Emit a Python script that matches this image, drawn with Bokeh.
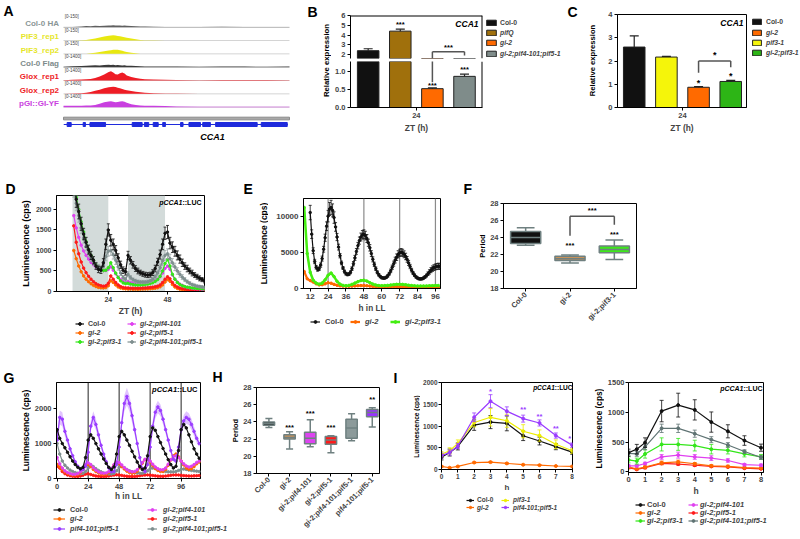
import math
from bokeh.plotting import figure
from bokeh.layouts import row, column
from bokeh.models import (ColumnDataSource, Label, Legend, LegendItem, Range1d,
                          FixedTicker, BoxAnnotation, Span)
from bokeh.core.properties import value
from bokeh.embed import file_html
from bokeh.resources import INLINE

FONT = "Liberation Sans"
NAN = float("nan")

# ============================ DATA ============================
# --- A: ChIP-seq browser tracks over the CCA1 locus (x in % of locus) ---
a_tracks = ["Col-0 HA", "PIF3_rep1", "PIF3_rep2", "Col-0 Flag", "Glox_rep1", "Glox_rep2", "pGI::GI-YF"]
a_ranges = ["[0-150]", "[0-150]", "[0-150]", "[0-1400]", "[0-1400]", "[0-1400]", "[0-1400]"]
a_label_colors = ["#8a9696", "#e6e62a", "#e6e62a", "#7d8a8a", "#ee1c25", "#ee1c25", "#c93fe0"]
a_fill_colors = ["#606060", "#e8e810", "#e8e810", "#3a3a3a", "#ee1c25", "#ee1c25", "#c93fe0"]
a_pos = [0, 4, 8, 10, 12, 14, 16, 18, 20, 21, 22, 23, 24, 25, 26, 27, 28, 30, 32, 34, 36, 40, 45, 50, 60, 70, 80, 90, 100]
a_col0_ha = [0.02, 0.03, 0.08, 0.12, 0.1, 0.14, 0.12, 0.15, 0.18, 0.16, 0.2, 0.18, 0.16, 0.18, 0.15, 0.17, 0.14, 0.12, 0.1, 0.08, 0.06, 0.05, 0.03, 0.03, 0.02, 0.04, 0.02, 0.02, 0.02]
a_pif3_rep1 = [0, 0, 0.02, 0.06, 0.12, 0.2, 0.3, 0.4, 0.48, 0.5, 0.52, 0.5, 0.45, 0.42, 0.38, 0.33, 0.28, 0.2, 0.12, 0.06, 0.03, 0.02, 0.01, 0.01, 0.01, 0.01, 0.01, 0.01, 0.01]
a_pif3_rep2 = [0, 0, 0, 0.02, 0.05, 0.1, 0.18, 0.26, 0.33, 0.36, 0.4, 0.42, 0.4, 0.36, 0.3, 0.24, 0.18, 0.1, 0.05, 0.02, 0.01, 0.01, 0, 0, 0, 0, 0, 0, 0]
a_col0_flag = [0.05, 0.1, 0.12, 0.15, 0.18, 0.2, 0.18, 0.22, 0.25, 0.22, 0.25, 0.2, 0.22, 0.2, 0.18, 0.2, 0.15, 0.15, 0.12, 0.1, 0.08, 0.08, 0.06, 0.06, 0.05, 0.08, 0.06, 0.05, 0.06]
a_glox_rep1 = [0.03, 0.08, 0.1, 0.12, 0.15, 0.25, 0.4, 0.6, 0.85, 0.92, 0.8, 0.62, 0.6, 0.72, 0.8, 0.7, 0.5, 0.35, 0.25, 0.18, 0.12, 0.1, 0.08, 0.05, 0.03, 0.05, 0.04, 0.05, 0.03]
a_glox_rep2 = [0.02, 0.04, 0.06, 0.1, 0.18, 0.3, 0.42, 0.55, 0.65, 0.68, 0.7, 0.68, 0.62, 0.55, 0.48, 0.42, 0.36, 0.28, 0.22, 0.16, 0.12, 0.06, 0.04, 0.03, 0.02, 0.02, 0.02, 0.02, 0.02]
a_pgi_gi = [0.15, 0.14, 0.15, 0.16, 0.18, 0.22, 0.35, 0.5, 0.58, 0.6, 0.55, 0.5, 0.52, 0.58, 0.6, 0.55, 0.45, 0.3, 0.22, 0.18, 0.15, 0.14, 0.12, 0.06, 0.05, 0.05, 0.05, 0.05, 0.05]
a_signal = [a_col0_ha, a_pif3_rep1, a_pif3_rep2, a_col0_flag, a_glox_rep1, a_glox_rep2, a_pgi_gi]
a_exon_start = [1.6, 8.7, 11.7, 30.4, 35.8, 39.7, 43.9, 51.8, 55.5, 61.6, 67.3, 87.5]
a_exon_end = [3.4, 9.7, 18.6, 34.8, 37.7, 41.9, 45.1, 52.9, 60.6, 65.0, 85.7, 99.0]
a_gene_start = 0.1
a_gene_end = 99.3

# --- B: qPCR CCA1 at ZT24 ---
b_genotypes = ["Col-0", "pifQ", "gi-2", "gi-2;pif4-101;pif5-1"]
b_pos = [1, 2, 3, 4]
b_values = [2.4, 4.4, 0.52, 0.86]
b_err = [0.2, 0.2, 0.02, 0.06]
b_colors = ["#111111", "#a0700c", "#ff6a00", "#7f8c8a"]

# --- C ---
c_genotypes = ["Col-0", "pif3-1", "gi-2", "gi-2;pif3-1"]
c_pos = [1, 2, 3, 4]
c_values = [2.6, 2.17, 0.87, 1.12]
c_err = [0.48, 0.03, 0.03, 0.05]
c_colors = ["#111111", "#f5f50a", "#ff6a00", "#2db516"]
c_legend_order = ["Col-0", "gi-2", "pif3-1", "gi-2;pif3-1"]

# --- D: luminescence, ZT hours 10..63 ---
d_hours = list(range(10, 64))
d_col0 = [2700, 2250, 1950, 1650, 1400, 1200, 1020, 880, 760, 620, 540, 520,
          700, 1150, 1500, 1250, 1150, 1000, 820, 650, 520, 480, 880, 760,
          650, 560, 500, 460, 430, 410, 400, 410, 460, 560, 720, 900,
          1150, 1420, 1450, 1180, 1080, 980, 880, 790, 700, 620, 560, 500,
          450, 400, 360, 320, 290, 260]
d_col0_err = [250, 200, 180, 160, 140, 120, 110, 100, 90, 80, 80, 80,
              100, 130, 150, 140, 130, 120, 100, 90, 80, 80, 100, 90,
              80, 70, 70, 60, 60, 60, 60, 60, 70, 80, 90, 110,
              130, 150, 160, 140, 130, 120, 110, 100, 90, 80, 80, 70,
              70, 60, 60, 60, 50, 50]
d_gray = [2500, 2150, 1850, 1550, 1300, 1100, 950, 820, 720, 640, 590, 570,
          640, 850, 980, 1000, 900, 760, 600, 450, 340, 300, 420, 340,
          290, 260, 240, 230, 230, 230, 240, 260, 300, 360, 450, 580,
          750, 880, 920, 800, 700, 600, 500, 420, 350, 290, 240, 200,
          170, 150, 130, 120, 110, 100]
d_gray_err = [200, 180, 160, 140, 120, 110, 100, 90, 80, 70, 70, 70,
              80, 100, 120, 120, 110, 100, 80, 60, 50, 50, 60, 50,
              40, 40, 40, 40, 40, 40, 40, 40, 50, 60, 70, 90,
              110, 120, 120, 110, 100, 90, 80, 70, 60, 50, 40, 40,
              30, 30, 30, 30, 30, 30]
d_green = [2600, 2300, 2000, 1700, 1450, 1220, 1030, 880, 760, 660, 590, 540,
           510, 520, 580, 700, 580, 450, 340, 260, 210, 190, 200, 180,
           170, 160, 160, 160, 165, 170, 180, 195, 215, 245, 290, 370,
           500, 680, 780, 620, 420, 300, 220, 170, 140, 120, 105, 95,
           85, 80, 75, 70, 65, 60]
d_magenta = [1850, 1550, 1320, 1130, 990, 880, 790, 710, 650, 600, 560, 530,
             510, 510, 540, 600, 520, 430, 350, 290, 250, 230, 240, 220,
             210, 200, 200, 200, 205, 210, 215, 225, 240, 260, 300, 360,
             450, 560, 620, 540, 400, 300, 230, 180, 150, 120, 100, 90,
             80, 70, 65, 60, 55, 50]
d_red = [1600, 1200, 920, 720, 570, 460, 370, 300, 240, 190, 160, 140,
         130, 140, 200, 380, 300, 220, 160, 120, 100, 90, 85, 80,
         80, 80, 80, 82, 85, 88, 92, 98, 105, 115, 130, 160,
         220, 300, 360, 310, 220, 150, 110, 85, 70, 60, 50, 45,
         40, 38, 35, 33, 30, 28]
d_orange = [1000, 800, 620, 480, 380, 300, 240, 190, 150, 120, 100, 90,
            85, 95, 140, 260, 220, 160, 110, 85, 70, 62, 60, 58,
            56, 55, 55, 56, 58, 60, 63, 67, 72, 80, 92, 115,
            160, 230, 290, 250, 170, 110, 75, 55, 45, 38, 33, 30,
            27, 25, 23, 22, 21, 20]
d_dark_start = [9.5, 32]
d_dark_end = [24, 47]

# --- E: free run, h in LL ---
e_hours_col0 = list(range(12, 100))
e_col0 = [10500, 7500, 5200, 3700, 2900, 2600, 2700, 3200, 4100, 5400, 7000, 8600,
          10000, 11000, 11200, 10800, 9800, 8500, 7100, 5700, 4500, 3500, 2800, 2300,
          2000, 1900, 1950, 2200, 2700, 3400, 4200, 5100, 5900, 6600, 7100, 7400,
          7500, 7300, 6900, 6300, 5600, 4800, 4000, 3300, 2700, 2200, 1850, 1600,
          1450, 1400, 1400, 1500, 1700, 2000, 2400, 2900, 3400, 3900, 4300, 4700,
          4900, 5000, 4900, 4700, 4400, 4000, 3500, 3000, 2500, 2100, 1800, 1550,
          1400, 1300, 1280, 1300, 1400, 1550, 1750, 2000, 2250, 2500, 2700, 2850,
          2950, 3000, 3050, 3000]
e_col0_err = [1000, 600, 400, 300, 250, 250, 250, 300, 350, 400, 500, 600,
              800, 900, 1000, 900, 800, 600, 500, 400, 300, 250, 200, 200,
              180, 180, 180, 200, 250, 300, 350, 400, 450, 500, 550, 600,
              600, 600, 550, 500, 450, 400, 350, 300, 250, 200, 180, 160,
              150, 150, 150, 160, 180, 200, 250, 300, 350, 400, 450, 500,
              500, 500, 500, 480, 450, 400, 350, 300, 250, 200, 180, 160,
              150, 150, 150, 150, 160, 180, 200, 250, 300, 350, 380, 400,
              400, 420, 420, 400]
e_hours = list(range(8, 100, 2))
e_green = [11200, 4800, 2200, 1100, 700, 550, 700, 1150, 1800, 2100, 1600, 950,
           550, 380, 330, 380, 520, 700, 900, 1050, 1100, 980, 760, 560,
           430, 360, 340, 350, 380, 430, 480, 530, 540, 520, 470, 410,
           360, 320, 300, 290, 290, 300, 320, 340, 350, 350]
e_orange = [2300, 1300, 1050, 850, 600, 450, 480, 600, 750, 680, 520, 400,
            320, 280, 260, 260, 280, 310, 340, 360, 360, 330, 290, 250,
            220, 200, 190, 190, 200, 210, 220, 220, 210, 200, 190, 180,
            170, 165, 160, 160, 160, 160, 165, 170, 170, 170]
ll_marks = [24, 48, 72, 96]

# --- F: period ---
f_genotypes = ["Col-0", "gi-2", "gi-2;pif3-1"]
f_pos = [1, 2, 3]
f_low = [23.1, 21.0, 21.4]
f_q1 = [23.3, 21.3, 22.2]
f_med = [24.0, 21.5, 22.6]
f_q3 = [24.7, 21.8, 23.0]
f_high = [25.15, 21.95, 23.7]
f_colors = ["#111111", "#c8925a", "#3de81a"]

# --- G: free run ---
g_hours = list(range(0, 112, 2))
g_col0 = [1400, 1150, 1000, 880, 750, 620, 500, 400, 320, 280, 320, 600,
          1100, 1250, 1150, 1000, 850, 700, 560, 430, 320, 260, 330, 700,
          1200, 1350, 1250, 1100, 950, 780, 620, 470, 340, 260, 300, 650,
          1200, 1450, 1380, 1200, 1030, 860, 700, 540, 400, 300, 350, 800,
          1400, 1550, 1450, 1250, 1050, 850, 700, 580]
g_purple = [1100, 1750, 1700, 1350, 1100, 850, 650, 480, 350, 260, 250, 350,
            750, 1500, 1750, 1550, 1250, 950, 700, 480, 300, 190, 200, 400,
            900, 1600, 2150, 2350, 2150, 1800, 1400, 1000, 600, 280, 200, 400,
            900, 1500, 1900, 2050, 1950, 1700, 1400, 1100, 800, 550, 500, 900,
            1400, 1650, 1750, 1700, 1550, 1350, 1150, 1000]
g_purple_err = [150, 200, 200, 150, 120, 100, 80, 60, 50, 40, 40, 60,
                100, 150, 180, 160, 130, 100, 80, 60, 40, 30, 30, 60,
                120, 180, 230, 250, 230, 200, 150, 100, 70, 40, 30, 60,
                120, 160, 180, 180, 170, 150, 120, 100, 80, 60, 60, 100,
                150, 170, 180, 170, 160, 140, 120, 100]
g_gray = [1000, 700, 500, 380, 300, 240, 200, 170, 150, 140, 150, 200,
          300, 380, 340, 280, 230, 190, 160, 140, 130, 130, 150, 220,
          320, 350, 310, 260, 220, 190, 170, 160, 150, 150, 170, 220,
          280, 300, 280, 250, 230, 210, 200, 190, 190, 190, 200, 230,
          260, 270, 260, 240, 230, 220, 210, 200]
g_orange = [400, 330, 250, 190, 150, 120, 100, 100, 120, 170, 260, 370,
            400, 340, 260, 200, 160, 130, 120, 130, 170, 260, 380, 450,
            420, 340, 270, 210, 170, 150, 160, 210, 310, 440, 540, 550,
            470, 370, 290, 230, 200, 200, 260, 380, 530, 650, 700, 620,
            500, 390, 300, 260, 280, 340, 420, 470]
g_magenta = [600, 420, 300, 220, 170, 140, 120, 120, 140, 190, 280, 400,
             450, 400, 310, 240, 190, 160, 150, 160, 200, 290, 400, 470,
             460, 390, 310, 250, 210, 190, 200, 250, 350, 460, 550, 560,
             500, 410, 330, 280, 250, 250, 300, 410, 540, 630, 650, 600,
             500, 420, 360, 330, 350, 400, 460, 500]
g_red = [350, 300, 200, 140, 100, 80, 65, 60, 60, 70, 95, 125,
         135, 115, 90, 72, 62, 58, 58, 62, 72, 88, 100, 105,
         100, 88, 75, 65, 60, 58, 60, 68, 80, 92, 100, 102,
         96, 86, 76, 68, 64, 64, 70, 80, 92, 100, 102, 98,
         90, 82, 76, 72, 72, 76, 80, 84]

# --- H: period ---
h_genotypes = ["Col-0", "gi-2", "gi-2;pif4-101", "gi-2;pif5-1", "gi-2;pif4-101;pif5-1", "pif4-101;pif5-1"]
h_pos = [1, 2, 3, 4, 5, 6]
h_low = [23.35, 20.85, 21.1, 20.4, 21.8, 23.4]
h_q1 = [23.6, 22.0, 21.45, 21.4, 22.1, 24.6]
h_med = [23.8, 22.2, 22.1, 21.9, 23.3, 25.1]
h_q3 = [24.0, 22.5, 22.8, 22.3, 24.3, 25.45]
h_high = [24.4, 22.85, 24.25, 22.4, 24.95, 25.65]
h_colors = ["#111111", "#c8925a", "#dd44f0", "#ff1a1a", "#8c9a9a", "#9933ff"]

# --- I: 0-8 h ---
i_hours = [0, 0.5, 1, 2, 3, 4, 5, 6, 7, 8]
il_col0 = [280, 390, 530, 1020, 1090, 1060, 775, 655, 525, 400]
il_col0_err = [60, 80, 80, 120, 150, 170, 110, 90, 70, 50]
il_gi2 = [70, 40, 70, 160, 170, 140, 110, 100, 80, 70]
il_gi2_err = [20, 10, 10, 15, 15, 15, 10, 10, 10, 10]
il_pif3 = [350, 430, 600, 1080, 1200, 1120, 880, 780, 580, 430]
il_pif3_err = [60, 70, 80, 100, 200, 150, 150, 130, 100, 60]
il_pif45 = [320, 390, 540, 1200, 1570, 1340, 1170, 1070, 780, 560]
il_pif45_err = [60, 60, 60, 100, 150, 100, 80, 70, 60, 50]
ir_col0 = [320, 380, 490, 1020, 1120, 1040, 835, 680, 525, 405]
ir_col0_err = [60, 80, 80, 180, 200, 170, 170, 110, 80, 60]
ir_gray = [310, 300, 420, 730, 730, 640, 540, 450, 340, 240]
ir_gray_err = [40, 40, 50, 70, 70, 60, 50, 40, 30, 30]
ir_green = [200, 180, 300, 460, 460, 440, 380, 360, 300, 250]
ir_green_err = [50, 50, 70, 110, 100, 90, 80, 60, 50, 40]
ir_magenta = [100, 100, 140, 250, 280, 250, 230, 190, 120, 110]
ir_magenta_err = [20, 20, 20, 40, 50, 40, 40, 30, 20, 20]
ir_orange = [80, 50, 80, 150, 165, 135, 100, 90, 70, 60]
ir_orange_err = [20, 10, 20, 30, 30, 20, 20, 20, 10, 10]
ir_red = [70, 40, 70, 140, 130, 110, 90, 80, 60, 50]
ir_red_err = [20, 10, 20, 20, 20, 20, 10, 10, 10, 10]

# colours
BLACK = "#111111"
ORANGE = "#ff6a00"
GREEN = "#33e619"
EGREEN = "#44ee11"
MAGENTA = "#e040f0"
RED = "#ff1a1a"
GRAY = "#7f8f8f"
DGRAY = "#5f7373"
PURPLE = "#9a3cff"
YELLOW = "#eded00"

LETTER = 14


# ============================ HELPERS ============================
def style_axis(ax, fs="7.5px", standoff=2):
    ax.axis_line_color = "black"
    ax.axis_line_width = 1
    ax.major_tick_in = 0
    ax.major_tick_out = 3
    ax.major_tick_line_width = 1
    ax.minor_tick_line_color = None
    ax.major_label_text_font = FONT
    ax.major_label_text_font_style = "bold"
    ax.major_label_text_font_size = fs
    ax.major_label_standoff = standoff


def axis_title(ax, text, size=8.5, standoff=3):
    ax.axis_label = text
    ax.axis_label_text_font = FONT
    ax.axis_label_text_font_style = "bold"
    ax.axis_label_text_font_size = f"{size}px"
    ax.axis_label_standoff = standoff


def make_label(x, y, units, text, size, style, align, baseline, angle, color):
    return Label(x=x, y=y, x_units=units, y_units=units, text=text, text_font=FONT,
                 text_font_size=f"{size}px", text_font_style=style, text_align=align,
                 text_baseline=baseline, angle=angle, text_color=color)


class Panel:
    """A figure whose frame sits at page pixels frame=(L, T, R, B)."""
    def __init__(self, origin, size, frame, xr, yr, xaxis=True, yaxis=True, fs="7.5px", standoff=2):
        ox, oy = origin
        W, H = size
        L, T, R, B = frame
        self.frame = frame
        kw = {}
        if not xaxis:
            kw["x_axis_type"] = None
        if not yaxis:
            kw["y_axis_type"] = None
        self.p = figure(width=W, height=H, x_range=xr, y_range=yr, title=None,
                        output_backend="svg", toolbar_location=None, frame_align=False,
                        min_border_left=L - ox, min_border_right=ox + W - R,
                        min_border_top=T - oy, min_border_bottom=oy + H - B, **kw)
        p = self.p
        p.grid.visible = False
        p.outline_line_color = "black"
        p.outline_line_width = 1
        p.border_fill_color = "white"
        p.background_fill_color = "white"
        for ax in p.axis:
            style_axis(ax, fs, standoff)

    def label(self, x, y, text, size=8.0, style="bold", align="center", baseline="middle",
              angle=0.0, color="black", data=True):
        if data:
            lab = make_label(x, y, "data", text, size, style, align, baseline, angle, color)
        else:
            L, T, R, B = self.frame
            lab = make_label(x - L, B - y, "screen", text, size, style, align, baseline, angle, color)
        self.p.add_layout(lab)

    def luc(self, xr, y, size):
        # "pCCA1" italic followed by upright "::LUC", right-aligned at xr
        self.label(xr, y, "::LUC", size=size, style="bold", align="right", data=False)
        self.label(xr - 2.72 * size, y, "pCCA1", size=size, style="bold italic", align="right", data=False)


class Canvas:
    """A text/legend strip whose frame is the whole figure; data units = page pixels."""
    def __init__(self, origin, size):
        ox, oy = origin
        W, H = size
        self.ox, self.oy, self.W, self.H = ox, oy, W, H
        self.p = figure(width=W, height=H, x_range=Range1d(ox, ox + W), y_range=Range1d(oy + H, oy),
                        x_axis_type=None, y_axis_type=None, output_backend="svg", title=None,
                        toolbar_location=None, frame_align=False, min_border=0,
                        min_border_left=0, min_border_right=0, min_border_top=0, min_border_bottom=0)
        self.p.outline_line_color = None
        self.p.grid.visible = False
        self.p.border_fill_color = "white"
        self.p.background_fill_color = "white"

    def text(self, x, y, text, size=8.0, style="bold", align="left", baseline="middle",
             angle=0.0, color="black"):
        self.p.add_layout(make_label(x, y, "data", text, size, style, align, baseline, angle, color))

    def key_line(self, color, lw=1.2, ms=2.5):
        rl = self.p.line(x=[NAN], y=[NAN], line_color=color, line_width=lw)
        rm = self.p.scatter(x=[NAN], y=[NAN], marker="circle", size=ms, fill_color=color, line_color=color)
        return [rl, rm]

    def key_box(self, color):
        return [self.p.vbar(x=[NAN], top=[NAN], width=1, fill_color=color, line_color="#222222", line_width=1)]

    def legend(self, renderers, text, gx, gy, gw=10, gh=7, standoff=3, size=7.5, italic=True):
        item_h = max(gh, round(size * 1.2))
        item = LegendItem(label=value(text), renderers=renderers)
        lg = Legend(items=[item], location=(gx - self.ox, self.oy + self.H - (gy + item_h / 2.0)),
                    glyph_width=gw, glyph_height=gh, label_height=gh, label_width=10,
                    padding=0, margin=0, spacing=0, label_standoff=standoff,
                    border_line_color=None, background_fill_alpha=0,
                    label_text_font=FONT, label_text_font_size=f"{size}px",
                    label_text_font_style="bold italic" if italic else "bold")
        self.p.add_layout(lg)


def series(pan, x, y, color, lw=1.2, ms=2.5, marker="circle", err=None, ecolor=None, cap=3):
    p = pan.p
    if err is not None:
        lo = [a - b for a, b in zip(y, err)]
        hi = [a + b for a, b in zip(y, err)]
        ec = ecolor or color
        p.segment(x0=x, y0=lo, x1=x, y1=hi, line_color=ec, line_width=0.8)
        p.scatter(x=list(x) + list(x), y=lo + hi, marker="dash", size=cap, line_color=ec, line_width=0.8)
    p.line(x=x, y=y, line_color=color, line_width=lw)
    p.scatter(x=x, y=y, marker=marker, size=ms, fill_color=color, line_color=color)


def boxes(pan, pos, low, q1, med, q3, high, colors, width, capw, edge="#6f8080"):
    p = pan.p
    p.segment(x0=pos, y0=q3, x1=pos, y1=high, line_color=edge, line_width=1.5)
    p.segment(x0=pos, y0=q1, x1=pos, y1=low, line_color=edge, line_width=1.5)
    p.segment(x0=[x - capw for x in pos], y0=high, x1=[x + capw for x in pos], y1=high, line_color=edge, line_width=1.5)
    p.segment(x0=[x - capw for x in pos], y0=low, x1=[x + capw for x in pos], y1=low, line_color=edge, line_width=1.5)
    p.vbar(x=pos, bottom=q1, top=q3, width=width, fill_color=colors, line_color=edge, line_width=1.5)
    p.segment(x0=[x - width / 2 for x in pos], y0=med, x1=[x + width / 2 for x in pos], y1=med, line_color=edge, line_width=1.5)


def bar_err(p, pos, vals, err, color="#222222", cap=9):
    hi = [v + e for v, e in zip(vals, err)]
    p.segment(x0=pos, y0=vals, x1=pos, y1=hi, line_color=color, line_width=1.2)
    p.scatter(x=pos, y=hi, marker="dash", size=cap, line_color=color, line_width=1.2)


# ============================ ROW 1 ============================
# ---- A ----
pa = Panel((0, 0), (300, 180), (0, 0, 300, 180), Range1d(-27.88, 104.87), Range1d(12.5, -1.003),
           xaxis=False, yaxis=False)
pa.p.outline_line_color = None
for i, name in enumerate(a_tracks):
    base = i + 1
    vals = a_signal[i]
    pa.p.line(x=[0, 100], y=[base, base], line_color="#d4d4d4", line_width=1)
    pa.p.varea(x=a_pos, y1=[base] * len(a_pos), y2=[base - 0.75 * v for v in vals],
               fill_color=a_fill_colors[i])
    pa.label(-2, base - 0.28, name, size=8, align="right", color=a_label_colors[i])
    pa.label(0.5, i + 0.22, a_ranges[i], size=4.5, style="normal", align="left", color="#444444")
pa.p.quad(left=[0], right=[100], top=[7.75], bottom=[7.95], fill_color="#a8a8a8", line_color="#8a8a8a")
pa.p.segment(x0=[a_gene_start], y0=[8.3], x1=[a_gene_end], y1=[8.3], line_color="#1f2bdc", line_width=1)
pa.p.quad(left=a_exon_start, right=a_exon_end, top=[8.15] * len(a_exon_start),
          bottom=[8.45] * len(a_exon_start), fill_color="#1f2bdc", line_color="#1f2bdc")
pa.label(65.9, 9.27, "CCA1", size=9, style="bold italic")
pa.label(3, 10.5, "A", size=LETTER, align="left", data=False)

# ---- B ----
cb = Canvas((300, 0), (31, 180))
cb.text(307, 11, "B", size=LETTER)
cb.text(326, 60, "Relative expression", size=7.8, align="center", angle=math.pi / 2)

pb1 = Panel((331, 0), (153, 60), (350, 15, 482, 58), Range1d(0.45, 4.56), Range1d(1.6, 6.0), xaxis=False)
pb2 = Panel((331, 60), (153, 120), (350, 61, 482, 107), Range1d(0.45, 4.56), Range1d(0, 1.27))
for pan in (pb1, pb2):
    pan.p.outline_line_color = None
    pan.p.add_layout(Span(location=4.56, dimension="height", line_color="black", line_width=2))
pb1.p.add_layout(Span(location=6.0, dimension="width", line_color="black", line_width=2))
pb1.p.yaxis.ticker = FixedTicker(ticks=[2, 3, 4, 5, 6])
pb2.p.yaxis.ticker = FixedTicker(ticks=[0, 0.5, 1.0])
pb2.p.yaxis.major_label_overrides = {0: "0.0", 0.5: "0.5", 1: "1.0"}
pb2.p.xaxis.ticker = FixedTicker(ticks=[2.5])
pb2.p.xaxis.major_label_overrides = {2.5: "24"}
axis_title(pb2.p.xaxis[0], "ZT (h)", size=8.4, standoff=2)
b_src = ColumnDataSource(dict(x=b_pos, top=b_values, color=b_colors))
for pan in (pb1, pb2):
    pan.p.vbar(x="x", top="top", bottom=0, width=0.67, fill_color="color", line_color="#222222",
               line_width=1, source=b_src)
    bar_err(pan.p, b_pos, b_values, b_err)
pb2.p.segment(x0=[3], y0=[0.7], x1=[3], y1=[1.3], line_color="#555555", line_width=1.5)
pb1.p.segment(x0=[3, 3, 4], y0=[1.6, 2.3, 2.3], x1=[3, 4, 4], y1=[2.3, 2.3, 1.9], line_color="#555555", line_width=1.5)
pb1.label(2, 5.1, "***", size=7.5)
pb1.label(3.5, 2.75, "***", size=7.5)
pb2.label(3, 0.62, "***", size=7.5)
pb2.label(4, 1.05, "***", size=7.5)
pb1.label(478, 23, "CCA1", size=8.5, style="bold italic", align="right", data=False)

lb = Canvas((484, 0), (78, 180))
for k, (gname, yy) in enumerate(zip(b_genotypes, [22, 32, 42, 53])):
    lb.legend(lb.key_box(b_colors[k]), gname, 485, yy, gw=12, gh=7, standoff=3, size=6.8, italic=(k > 0))

# ---- C ----
ccs = Canvas((562, 0), (36, 180))
ccs.text(567, 11, "C", size=LETTER)
ccs.text(592, 60, "Relative expression", size=7.6, align="center", angle=math.pi / 2)
pc = Panel((598, 0), (150, 180), (617, 14, 746, 107), Range1d(0.48, 4.49), Range1d(0, 4))
pc.p.yaxis.ticker = FixedTicker(ticks=[0, 1, 2, 3, 4])
pc.p.xaxis.ticker = FixedTicker(ticks=[2.5])
pc.p.xaxis.major_label_overrides = {2.5: "24"}
axis_title(pc.p.xaxis[0], "ZT (h)", size=8.4, standoff=2)
c_src = ColumnDataSource(dict(x=c_pos, top=c_values, color=c_colors))
pc.p.vbar(x="x", top="top", bottom=0, width=0.67, fill_color="color", line_color="#222222",
          line_width=1, source=c_src)
bar_err(pc.p, c_pos, c_values, c_err)
pc.p.segment(x0=[3, 3, 4], y0=[1.5, 2.0, 2.0], x1=[3, 4, 4], y1=[2.0, 2.0, 1.73], line_color="#555555", line_width=1.5)
pc.label(3, 1.05, "*", size=9)
pc.label(4, 1.35, "*", size=9)
pc.label(3.5, 2.27, "*", size=9)
pc.label(743, 22.7, "CCA1", size=8.5, style="bold italic", align="right", data=False)
lc = Canvas((748, 0), (52, 180))
for k, (gname, yy) in enumerate(zip(c_legend_order, [20.7, 31.7, 42.3, 52.3])):
    lc.legend(lc.key_box(c_colors[c_genotypes.index(gname)]), gname, 751, yy, gw=11, gh=7,
              standoff=4, size=6.8, italic=(k > 0))

# ============================ ROW 2 ============================
cd = Canvas((0, 180), (31, 138))
cd.text(5, 188, "D", size=LETTER)
cd.text(25, 243, "Luminescence (cps)", size=9, align="center", angle=math.pi / 2)
pd_ = Panel((31, 180), (194, 138), (56, 195, 204, 292), Range1d(3, 63), Range1d(0, 2340), fs="7px")
pd_.p.xaxis.ticker = FixedTicker(ticks=[24, 48])
pd_.p.yaxis.ticker = FixedTicker(ticks=[0, 500, 1000, 1500, 2000])
axis_title(pd_.p.xaxis[0], "ZT (h)", size=8.5, standoff=1)
for s, e in zip(d_dark_start, d_dark_end):
    pd_.p.add_layout(BoxAnnotation(left=s, right=e, fill_color="#d3dbda", fill_alpha=1.0,
                                   line_color=None, level="underlay"))
series(pd_, d_hours, d_orange, ORANGE)
series(pd_, d_hours, d_red, RED)
series(pd_, d_hours, d_magenta, MAGENTA)
series(pd_, d_hours, d_green, GREEN)
series(pd_, d_hours, d_gray, GRAY, err=d_gray_err, ecolor="#9aa6a6")
series(pd_, d_hours, d_col0, BLACK, err=d_col0_err)
pd_.luc(201, 203, 7)

ce = Canvas((225, 180), (43, 138))
ce.text(243, 188, "E", size=LETTER)
ce.text(263, 243, "Luminescence (cps)", size=8.5, align="center", angle=math.pi / 2)
pe = Panel((268, 180), (192, 138), (303, 198, 440, 288), Range1d(7.5, 99.4), Range1d(-50, 12450), fs="8px")
pe.p.xaxis.ticker = FixedTicker(ticks=[12, 24, 36, 48, 60, 72, 84, 96])
pe.p.yaxis.ticker = FixedTicker(ticks=[0, 5000, 10000])
axis_title(pe.p.xaxis[0], "h in LL", size=8.2, standoff=2)
for m in ll_marks:
    pe.p.add_layout(Span(location=m, dimension="height", line_color="#8a8a8a", line_width=1.2, level="underlay"))
series(pe, e_hours, e_orange, ORANGE, lw=2.2, ms=2.5)
series(pe, e_hours, e_green, EGREEN, lw=2.5, ms=2.5)
series(pe, e_hours_col0, e_col0, BLACK, lw=1.2, ms=2.5, err=e_col0_err, cap=3)

lde = Canvas((0, 318), (460, 52))
for k, (gname, c, yy) in enumerate(zip(["Col-0", "gi-2", "gi-2;pif3-1"], [BLACK, ORANGE, GREEN], [323, 331.7, 340.7])):
    lde.legend(lde.key_line(c), gname, 75, yy, gw=9, gh=7, standoff=4, size=7, italic=(k > 0))
for gname, c, yy in zip(["gi-2;pif4-101", "gi-2;pif5-1", "gi-2;pif4-101;pif5-1"], [MAGENTA, RED, GRAY], [323, 331.7, 340.7]):
    lde.legend(lde.key_line(c), gname, 127, yy, gw=9, gh=7, standoff=4, size=7)
for k, (gname, c, lw, gx) in enumerate(zip(["Col-0", "gi-2", "gi-2;pif3-1"], [BLACK, ORANGE, EGREEN],
                                           [1.2, 2.2, 2.5], [310, 350, 390])):
    lde.legend(lde.key_line(c, lw), gname, gx, 321.7, gw=10, gh=7, standoff=5, size=7.5, italic=(k > 0))

cf = Canvas((460, 180), (27, 190))
cf.text(463, 188, "F", size=LETTER)
cf.text(482, 245.5, "Period", size=7.5, align="center", angle=math.pi / 2)
pf = Panel((487, 180), (153, 190), (503, 203, 636, 288), Range1d(0.5, 3.5), Range1d(18, 28))
pf.p.yaxis.ticker = FixedTicker(ticks=[18, 20, 22, 24, 26, 28])
pf.p.xaxis.ticker = FixedTicker(ticks=f_pos)
pf.p.xaxis.major_label_overrides = {k: v for k, v in zip(f_pos, f_genotypes)}
pf.p.xaxis.major_label_orientation = math.pi / 4
boxes(pf, f_pos, f_low, f_q1, f_med, f_q3, f_high, f_colors, 0.68, 0.2)
pf.p.segment(x0=[2, 2, 3], y0=[24.2, 26.5, 26.5], x1=[2, 3, 3], y1=[26.5, 26.5, 25.5], line_color="#555555", line_width=1.5)
pf.label(2, 23.1, "***", size=7.5)
pf.label(3, 24.4, "***", size=7.5)
pf.label(2.5, 27.2, "***", size=7.5)

# ============================ ROW 3 ============================
cg = Canvas((0, 370), (31, 133))
cg.text(3, 377, "G", size=LETTER)
cg.text(25, 430, "Luminescence (cps)", size=8.5, align="center", angle=math.pi / 2)
pg = Panel((31, 370), (179, 133), (56, 382, 200, 478), Range1d(-0.5, 111), Range1d(0, 2750))
pg.p.xaxis.ticker = FixedTicker(ticks=[0, 24, 48, 72, 96])
pg.p.yaxis.ticker = FixedTicker(ticks=[0, 1000, 2000])
axis_title(pg.p.xaxis[0], "h in LL", size=8.2, standoff=0)
for m in ll_marks:
    pg.p.add_layout(Span(location=m, dimension="height", line_color="#222222", line_width=1, level="underlay"))
pg.p.varea(x=g_hours, y1=[a - b for a, b in zip(g_purple, g_purple_err)],
           y2=[a + b for a, b in zip(g_purple, g_purple_err)], fill_color=PURPLE, fill_alpha=0.3)
series(pg, g_hours, g_red, RED)
series(pg, g_hours, g_gray, GRAY)
series(pg, g_hours, g_orange, ORANGE)
series(pg, g_hours, g_magenta, MAGENTA)
series(pg, g_hours, g_purple, PURPLE)
series(pg, g_hours, g_col0, BLACK)
pg.luc(197, 389, 7.5)

ch = Canvas((210, 370), (30, 133))
ch.text(212, 376, "H", size=LETTER)
ch.text(235, 430, "Period", size=7.5, align="center", angle=math.pi / 2)

lg_ = Canvas((0, 503), (240, 35))
for k, (gname, c, yy) in enumerate(zip(["Col-0", "gi-2", "pif4-101;pif5-1"], [BLACK, ORANGE, PURPLE], [509, 518, 528])):
    lg_.legend(lg_.key_line(c), gname, 53, yy, gw=12, gh=7, standoff=5, size=7.2, italic=(k > 0))
for gname, c, yy in zip(["gi-2;pif4-101", "gi-2;pif5-1", "gi-2;pif4-101;pif5-1"], [MAGENTA, RED, GRAY], [509, 518, 528]):
    lg_.legend(lg_.key_line(c), gname, 147, yy, gw=10, gh=7, standoff=6, size=7.2)

ph = Panel((240, 370), (140, 168), (253, 387, 379, 473), Range1d(0.4, 6.35), Range1d(18, 28))
ph.p.yaxis.ticker = FixedTicker(ticks=[18, 20, 22, 24, 26, 28])
ph.p.xaxis.ticker = FixedTicker(ticks=h_pos)
ph.p.xaxis.major_label_overrides = {k: v for k, v in zip(h_pos, h_genotypes)}
ph.p.xaxis.major_label_orientation = math.pi / 4
boxes(ph, h_pos, h_low, h_q1, h_med, h_q3, h_high, h_colors, 0.55, 0.17)
ph.label(2, 23.4, "***", size=7.5)
ph.label(3, 25.0, "***", size=7.5)
ph.label(4, 23.3, "***", size=7.5)
ph.label(6, 26.6, "**", size=7.5)

ci = Canvas((380, 370), (40, 124))
ci.text(393, 377, "I", size=LETTER)
ci.text(416, 426, "Luminescence (cps)", size=6.5, align="center", angle=math.pi / 2)
pil = Panel((420, 370), (170, 124), (438, 382, 572, 470), Range1d(0, 8.02), Range1d(0, 2000),
            fs="6.5px", standoff=1)
pil.p.xaxis.ticker = FixedTicker(ticks=[0, 1, 2, 3, 4, 5, 6, 7, 8])
pil.p.yaxis.ticker = FixedTicker(ticks=[0, 500, 1000, 1500, 2000])
axis_title(pil.p.xaxis[0], "h", size=8, standoff=1)
series(pil, i_hours, il_gi2, ORANGE, ms=3, err=il_gi2_err, cap=4)
series(pil, i_hours, il_col0, BLACK, ms=3, err=il_col0_err, cap=4)
series(pil, i_hours, il_pif3, YELLOW, ms=3, err=il_pif3_err, cap=4)
series(pil, i_hours, il_pif45, PURPLE, ms=3, err=il_pif45_err, cap=4)
for xx, yy, t in zip([3, 5, 6, 7, 7.85], [1800, 1370, 1220, 940, 720], ["*", "**", "**", "**", "*"]):
    pil.label(xx, yy, t, size=7.5, color=PURPLE)
pil.luc(569, 388, 6.5)
lil = Canvas((380, 494), (210, 44))
for k, (gname, c, yy) in enumerate(zip(["Col-0", "gi-2"], [BLACK, ORANGE], [499, 506.7])):
    lil.legend(lil.key_line(c, ms=3), gname, 466, yy, gw=8, gh=6, standoff=3, size=6.5, italic=(k > 0))
for gname, c, yy in zip(["pif3-1", "pif4-101;pif5-1"], [YELLOW, PURPLE], [499, 506.7]):
    lil.legend(lil.key_line(c, ms=3), gname, 501, yy, gw=8, gh=6, standoff=4, size=6.5)

cir = Canvas((590, 370), (14, 128))
cir.text(598, 428, "Luminescence (cps)", size=8.3, align="center", angle=math.pi / 2)
pir = Panel((604, 370), (196, 128), (625, 382, 763, 473), Range1d(0, 8.15), Range1d(-12, 1500),
            fs="7.5px", standoff=1)
pir.p.xaxis.ticker = FixedTicker(ticks=[0, 1, 2, 3, 4, 5, 6, 7, 8])
pir.p.yaxis.ticker = FixedTicker(ticks=[0, 500, 1000, 1500])
axis_title(pir.p.xaxis[0], "h", size=8.5, standoff=1)
series(pir, i_hours, ir_red, RED, ms=3, err=ir_red_err, cap=4)
series(pir, i_hours, ir_orange, ORANGE, ms=3, err=ir_orange_err, cap=4)
series(pir, i_hours, ir_magenta, MAGENTA, ms=3, err=ir_magenta_err, cap=4)
series(pir, i_hours, ir_green, GREEN, ms=3, err=ir_green_err, cap=4)
series(pir, i_hours, ir_gray, DGRAY, ms=3, err=ir_gray_err, cap=4)
series(pir, i_hours, ir_col0, BLACK, ms=3, err=ir_col0_err, cap=4)
pir.luc(759, 389, 7)
lir = Canvas((590, 498), (210, 40))
for k, (gname, c, yy) in enumerate(zip(["Col-0", "gi-2", "gi-2;pif3-1"], [BLACK, ORANGE, GREEN], [504.3, 512.7, 520.7])):
    lir.legend(lir.key_line(c, ms=3), gname, 635, yy, gw=10, gh=7, standoff=2, size=7.5, italic=(k > 0))
for gname, c, yy in zip(["gi-2;pif4-101", "gi-2;pif5-1", "gi-2;pif4-101;pif5-1"], [MAGENTA, RED, DGRAY], [504.3, 512.7, 520.7]):
    lir.legend(lir.key_line(c, ms=3), gname, 688, yy, gw=10, gh=7, standoff=2, size=7.5)

# ============================ LAYOUT ============================
layout = column(
    row(pa.p, cb.p, column(pb1.p, pb2.p), lb.p, ccs.p, pc.p, lc.p),
    row(column(row(cd.p, pd_.p, ce.p, pe.p), lde.p), cf.p, pf.p),
    row(column(row(cg.p, pg.p, ch.p), lg_.p), ph.p,
        column(row(ci.p, pil.p), lil.p), column(row(cir.p, pir.p), lir.p)),
)

open("out.html", "w").write(file_html(layout, INLINE, "Figure"))
